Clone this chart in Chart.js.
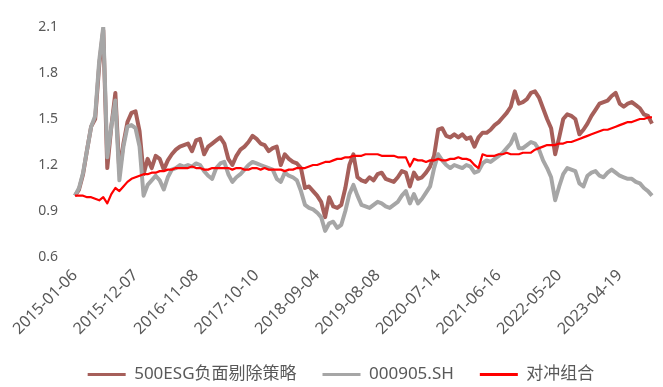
<!DOCTYPE html>
<html>
<head>
<meta charset="utf-8">
<script src="https://cdn.jsdelivr.net/npm/chart.js@4.4.0/dist/chart.umd.min.js"></script>
<style>
  html, body { margin: 0; padding: 0; background: #ffffff; }
  #wrap { width: 663px; height: 387px; }
</style>
</head>
<body>
<div id="wrap"><canvas id="chart" width="663" height="387"></canvas></div>
<script>
// tick labels shown on the x axis, one every STEP points
const tickLabels = ['2015-01-06', '2015-12-07', '2016-11-08', '2017-10-10', '2018-09-04',
    '2019-08-08', '2020-07-14', '2021-06-16', '2022-05-20', '2023-04-19'];
const STEP = 15;

const seriesNames = ['500ESG负面剔除策略', '000905.SH', '对冲组合'];

// 500ESG负面剔除策略 (net value)
const esgValues = [
    1.00, 1.04, 1.14, 1.30, 1.45, 1.50, 1.85, 2.08, 1.18, 1.45,
    1.67, 1.15, 1.34, 1.48, 1.54, 1.55, 1.42, 1.14, 1.24, 1.18,
    1.26, 1.24, 1.17, 1.23, 1.27, 1.30, 1.32, 1.33, 1.34, 1.29,
    1.36, 1.37, 1.27, 1.32, 1.34, 1.36, 1.38, 1.34, 1.24, 1.20,
    1.26, 1.30, 1.32, 1.35, 1.39, 1.37, 1.34, 1.33, 1.29, 1.31,
    1.32, 1.20, 1.27, 1.24, 1.22, 1.21, 1.18, 1.05, 1.06, 1.03,
    1.00, 0.96, 0.86, 0.99, 0.93, 0.92, 0.94, 1.05, 1.20, 1.27,
    1.12, 1.10, 1.09, 1.12, 1.10, 1.14, 1.15, 1.11, 1.10, 1.09,
    1.12, 1.16, 1.15, 1.06, 1.15, 1.11, 1.12, 1.15, 1.19, 1.26,
    1.43, 1.44, 1.39, 1.38, 1.40, 1.38, 1.40, 1.37, 1.38, 1.32,
    1.38, 1.41, 1.41, 1.43, 1.46, 1.48, 1.51, 1.54, 1.58, 1.68,
    1.60, 1.61, 1.63, 1.67, 1.68, 1.64, 1.57, 1.50, 1.44, 1.27,
    1.38, 1.50, 1.53, 1.52, 1.50, 1.40, 1.43, 1.47, 1.52, 1.56,
    1.60, 1.61, 1.62, 1.65, 1.67, 1.60, 1.58, 1.60, 1.61, 1.59,
    1.57, 1.53, 1.52, 1.47
];

// 000905.SH (中证500 net value)
const indexValues = [
    1.00, 1.05, 1.15, 1.30, 1.45, 1.52, 1.88, 2.10, 1.25, 1.45,
    1.62, 1.10, 1.32, 1.45, 1.46, 1.44, 1.32, 1.00, 1.07, 1.10,
    1.13, 1.10, 1.04, 1.12, 1.17, 1.18, 1.20, 1.19, 1.20, 1.19,
    1.21, 1.20, 1.16, 1.13, 1.11, 1.18, 1.21, 1.22, 1.14, 1.09,
    1.12, 1.14, 1.17, 1.20, 1.22, 1.21, 1.20, 1.19, 1.18, 1.17,
    1.11, 1.09, 1.15, 1.13, 1.12, 1.10, 1.03, 0.94, 0.92, 0.91,
    0.89, 0.86, 0.77, 0.82, 0.83, 0.79, 0.81, 0.90, 1.01, 1.07,
    1.00, 0.94, 0.93, 0.92, 0.94, 0.96, 0.95, 0.93, 0.92, 0.94,
    0.96, 1.00, 1.03, 0.95, 1.01, 0.95, 0.98, 1.02, 1.06, 1.18,
    1.27, 1.23, 1.20, 1.18, 1.20, 1.19, 1.18, 1.20, 1.19, 1.15,
    1.16, 1.21, 1.23, 1.22, 1.24, 1.26, 1.28, 1.31, 1.34, 1.40,
    1.31, 1.31, 1.33, 1.35, 1.34, 1.30, 1.23, 1.18, 1.12, 0.97,
    1.06, 1.14, 1.18, 1.17, 1.16, 1.08, 1.06, 1.13, 1.15, 1.16,
    1.13, 1.12, 1.15, 1.17, 1.15, 1.13, 1.12, 1.11, 1.11, 1.09,
    1.08, 1.05, 1.03, 1.00
];

// 对冲组合 (hedged portfolio)
const hedgeValues = [
    1.00, 1.00, 1.00, 0.99, 0.99, 0.98, 0.97, 0.99, 0.95, 1.01,
    1.05, 1.03, 1.06, 1.09, 1.11, 1.12, 1.13, 1.14, 1.14, 1.15,
    1.15, 1.16, 1.16, 1.17, 1.17, 1.18, 1.18, 1.18, 1.18, 1.19,
    1.18, 1.18, 1.17, 1.17, 1.18, 1.18, 1.18, 1.18, 1.18, 1.17,
    1.18, 1.18, 1.17, 1.17, 1.18, 1.18, 1.17, 1.18, 1.17, 1.17,
    1.17, 1.17, 1.16, 1.17, 1.17, 1.18, 1.18, 1.18, 1.19, 1.20,
    1.20, 1.21, 1.22, 1.22, 1.23, 1.24, 1.24, 1.25, 1.25, 1.26,
    1.26, 1.26, 1.27, 1.27, 1.27, 1.27, 1.26, 1.26, 1.26, 1.26,
    1.25, 1.25, 1.25, 1.19, 1.24, 1.23, 1.23, 1.22, 1.23, 1.23,
    1.24, 1.23, 1.23, 1.24, 1.24, 1.25, 1.24, 1.24, 1.23, 1.20,
    1.18, 1.27, 1.26, 1.26, 1.26, 1.27, 1.27, 1.28, 1.27, 1.27,
    1.27, 1.28, 1.28, 1.28, 1.30, 1.31, 1.32, 1.33, 1.33, 1.33,
    1.34, 1.34, 1.35, 1.35, 1.36, 1.37, 1.38, 1.39, 1.40, 1.41,
    1.42, 1.43, 1.43, 1.44, 1.45, 1.46, 1.47, 1.48, 1.48, 1.49,
    1.50, 1.50, 1.51, 1.51
];

const seriesColors = ['#A65F5A', '#A6A6A6', '#FF0000'];

const FONT = "'Noto Sans', 'Noto Sans CJK SC', sans-serif";
const TEXT_COLOR = '#595959';

const labels = esgValues.map((v, i) => i);

const ctx = document.getElementById('chart').getContext('2d');
const chart = new Chart(ctx, {
    type: 'line',
    data: {
        labels: labels,
        datasets: [
            {
                label: seriesNames[0],
                data: esgValues,
                borderColor: seriesColors[0],
                backgroundColor: seriesColors[0],
                borderWidth: 4,
                order: 2
            },
            {
                label: seriesNames[1],
                data: indexValues,
                borderColor: seriesColors[1],
                backgroundColor: seriesColors[1],
                borderWidth: 4,
                order: 1
            },
            {
                label: seriesNames[2],
                data: hedgeValues,
                borderColor: seriesColors[2],
                backgroundColor: seriesColors[2],
                borderWidth: 2.2,
                order: 0
            }
        ]
    },
    options: {
        responsive: false,
        animation: false,
        events: [],
        elements: {
            point: { radius: 0 },
            line: { tension: 0, borderJoinStyle: 'round', fill: false }
        },
        layout: {
            // left padding only shifts the legend; the y axis width makes up the rest
            padding: { top: 27, right: 11, left: 30, bottom: -6 }
        },
        scales: {
            x: {
                type: 'category',
                offset: false,
                grid: { display: false, drawTicks: false },
                border: { display: false },
                ticks: {
                    autoSkip: false,
                    minRotation: 45,
                    maxRotation: 45,
                    padding: 9,
                    color: TEXT_COLOR,
                    font: { family: FONT, size: 16 },
                    callback: function (val, idx) {
                        return idx % STEP === 0 ? tickLabels[idx / STEP] : null;
                    }
                },
                afterFit: function (scale) {
                    scale.height = 83;
                }
            },
            y: {
                min: 0.6,
                max: 2.1,
                grid: { display: false, drawTicks: false },
                border: { display: false },
                ticks: {
                    stepSize: 0.3,
                    padding: 17,
                    color: TEXT_COLOR,
                    font: { family: FONT, size: 14 },
                    callback: function (v) { return v.toFixed(1); }
                },
                afterFit: function (scale) {
                    scale.width = 45;
                }
            }
        },
        plugins: {
            tooltip: { enabled: false },
            legend: {
                display: true,
                position: 'bottom',
                labels: {
                    boxWidth: 38,
                    boxHeight: 3,
                    padding: 26,
                    color: TEXT_COLOR,
                    font: { family: FONT, size: 17 },
                    sort: function (a, b) { return a.datasetIndex - b.datasetIndex; },
                    generateLabels: function (chart) {
                        const items = Chart.defaults.plugins.legend.labels.generateLabels(chart);
                        items.forEach(it => {
                            it.fillStyle = it.strokeStyle;
                            it.lineWidth = 0;
                        });
                        return items;
                    }
                }
            }
        }
    }
});
</script>
</body>
</html>
